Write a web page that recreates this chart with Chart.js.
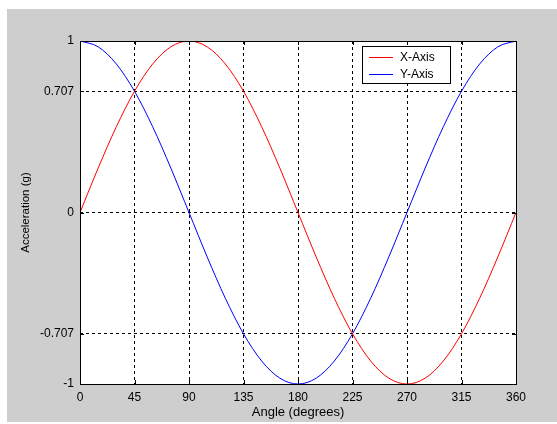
<!DOCTYPE html>
<html>
<head>
<meta charset="utf-8">
<script src="https://cdn.jsdelivr.net/npm/chart.js@4/dist/chart.umd.min.js"></script>
<style>
  html, body { margin: 0; padding: 0; background: #ffffff; }
  #wrap { width: 557px; height: 424px; position: relative; }
</style>
</head>
<body>
<div id="wrap"><canvas id="accelChart"></canvas></div>
<script>
// Angles (degrees) and values
const angles = [0, 15, 30, 45, 60, 75, 90, 105, 120, 135, 150, 165, 180,
                195, 210, 225, 240, 255, 270, 285, 300, 315, 330, 345, 360];
const xAxisValues = [0, 0.259, 0.5, 0.707, 0.866, 0.966, 1, 0.966, 0.866, 0.707, 0.5, 0.259, 0,
                     -0.259, -0.5, -0.707, -0.866, -0.966, -1, -0.966, -0.866, -0.707, -0.5, -0.259, 0];
const yAxisValues = [1, 0.966, 0.866, 0.707, 0.5, 0.259, 0, -0.259, -0.5, -0.707, -0.866, -0.966, -1,
                     -0.966, -0.866, -0.707, -0.5, -0.259, 0, 0.259, 0.5, 0.707, 0.866, 0.966, 1];
const xTicks = [0, 45, 90, 135, 180, 225, 270, 315, 360];
const yTicks = [-1, -0.707, 0, 0.707, 1];

const toPoints = vals => vals.map((v, i) => ({ x: angles[i], y: v }));

// fond gris, cadre, petites graduations et légende façon MATLAB
const matlabLook = {
    id: 'matlabLook',
    beforeDraw(chart) {
        const { ctx, chartArea: a } = chart;
        ctx.save();
        ctx.fillStyle = '#cecece';
        ctx.fillRect(7, 9, 550, 413);
        ctx.fillStyle = '#ffffff';
        ctx.fillRect(a.left, a.top, a.right - a.left, a.bottom - a.top);
        ctx.restore();
    },
    afterDraw(chart) {
        const { ctx, chartArea: a, scales } = chart;
        ctx.save();
        ctx.strokeStyle = '#000000';
        ctx.lineWidth = 1;
        ctx.beginPath();
        xTicks.forEach(t => {
            const px = Math.round(scales.x.getPixelForValue(t)) + 0.5;
            ctx.moveTo(px, a.bottom); ctx.lineTo(px, a.bottom - 4);
            ctx.moveTo(px, a.top); ctx.lineTo(px, a.top + 4);
        });
        yTicks.forEach(t => {
            const py = Math.round(scales.y.getPixelForValue(t)) + 0.5;
            ctx.moveTo(a.left, py); ctx.lineTo(a.left + 4, py);
            ctx.moveTo(a.right, py); ctx.lineTo(a.right - 4, py);
        });
        ctx.stroke();
        ctx.strokeRect(Math.round(a.left) + 0.5, Math.round(a.top) + 0.5,
                       Math.round(a.right - a.left), Math.round(a.bottom - a.top));

        // légende
        const lx = 362.5, ly = 46.5, lw = 88, lh = 37;
        ctx.fillStyle = '#ffffff';
        ctx.fillRect(lx, ly, lw, lh);
        ctx.strokeRect(lx, ly, lw, lh);
        ctx.font = '12px "Liberation Sans", Arial, sans-serif';
        ctx.textBaseline = 'middle';
        chart.data.datasets.forEach((ds, i) => {
            const y = Math.round(ly + 10 + i * 17) + 0.5;
            ctx.strokeStyle = ds.borderColor;
            ctx.beginPath();
            ctx.moveTo(369, y); ctx.lineTo(393, y);
            ctx.stroke();
            ctx.fillStyle = '#000000';
            ctx.fillText(ds.label, 400, y);
        });
        ctx.restore();
    }
};

const ctx = document.getElementById('accelChart').getContext('2d');
new Chart(ctx, {
    type: 'line',
    data: {
        datasets: [
            { label: 'X-Axis', data: toPoints(xAxisValues), borderColor: '#ff0000' },
            { label: 'Y-Axis', data: toPoints(yAxisValues), borderColor: '#0000ff' }
        ]
    },
    options: {
        responsive: true,
        maintainAspectRatio: false,
        animation: false,
        layout: { padding: { left: 0, top: 41, right: 41, bottom: 0 } },
        elements: {
            line: { borderWidth: 1, cubicInterpolationMode: 'monotone', fill: false },
            point: { radius: 0 }
        },
        plugins: {
            legend: { display: false },
            tooltip: { enabled: false }
        },
        scales: {
            x: {
                type: 'linear',
                min: 0,
                max: 360,
                afterFit: s => { s.height = 40; },
                afterBuildTicks: s => { s.ticks = xTicks.map(v => ({ value: v })); },
                grid: { color: '#000000', drawTicks: false, lineWidth: 1 },
                border: { display: false, dash: [3, 3] },
                ticks: {
                    color: '#000000',
                    padding: 6,
                    maxRotation: 0,
                    font: { family: '"Liberation Sans", Arial, sans-serif', size: 12 }
                },
                title: {
                    display: true,
                    text: 'Angle (degrees)',
                    color: '#000000',
                    font: { family: '"Liberation Sans", Arial, sans-serif', size: 13 },
                    padding: { top: 0, bottom: 4 }
                }
            },
            y: {
                type: 'linear',
                min: -1,
                max: 1,
                afterFit: s => { s.width = 80; },
                afterBuildTicks: s => { s.ticks = yTicks.map(v => ({ value: v })); },
                grid: { color: '#000000', drawTicks: false, lineWidth: 1 },
                border: { display: false, dash: [3, 3] },
                ticks: {
                    color: '#000000',
                    padding: 6,
                    callback: v => String(v),
                    font: { family: '"Liberation Sans", Arial, sans-serif', size: 12 }
                },
                title: {
                    display: true,
                    text: 'Acceleration (g)',
                    color: '#000000',
                    font: { family: '"Liberation Sans", Arial, sans-serif', size: 11.5 },
                    padding: { top: 19, bottom: 0 }
                }
            }
        }
    },
    plugins: [matlabLook]
});
</script>
</body>
</html>
